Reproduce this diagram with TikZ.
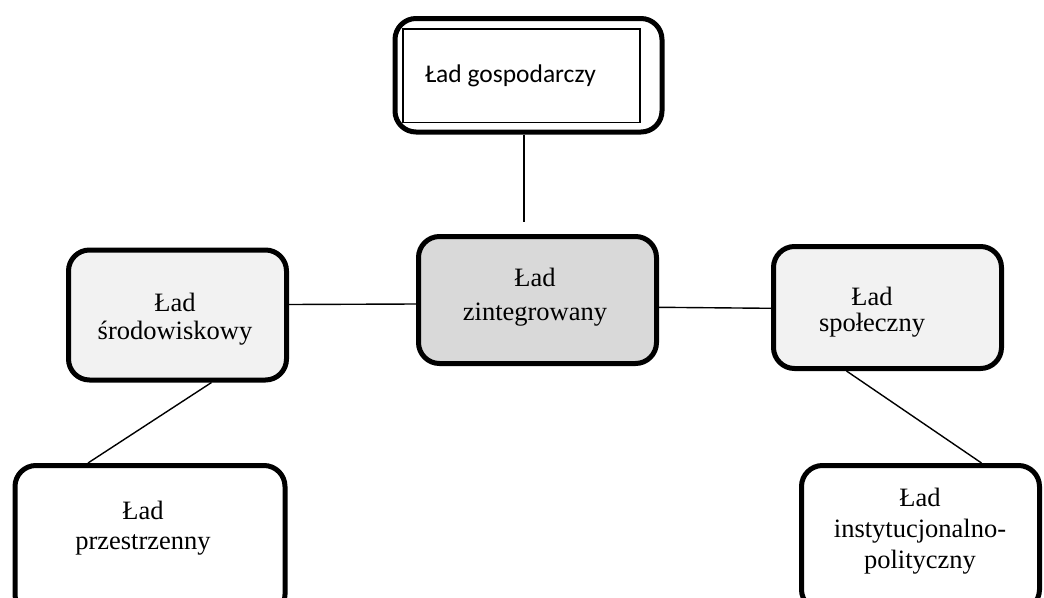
\documentclass[tikz,border=0pt]{standalone}
\usepackage{fontspec}
\setmainfont{Liberation Serif}
\newfontfamily\calibri{Carlito}
\definecolor{zifill}{HTML}{D9D9D9}
\definecolor{lightfill}{HTML}{F2F2F2}
\tikzset{
  box/.style={draw=black, line width=5pt, rounded corners=21pt, rectangle, inner sep=0pt},
  lbl/.style={align=center, inner sep=0pt, font=\fontsize{26.5}{#1}\selectfont},
  conn/.style={draw=black, line width=1.4pt},
}
\begin{document}
\begin{tikzpicture}[x=1pt,y=-1pt]
\useasboundingbox (0,0) rectangle (1044,597);
\clip (0,0) rectangle (1044,597);
% boxes
\node[box, fill=white, minimum width=267pt, minimum height=113.5pt] (gosp) at (528.5,75.25) {};
\node[draw=black, line width=1.3pt, rectangle, inner sep=0pt, minimum width=237pt, minimum height=93.5pt] (gin) at (521.5,75.75) {};
\node[anchor=base west, inner sep=0pt, font=\calibri\fontsize{25.5}{30}\selectfont] (gt) at (425,82) {Ład gospodarczy};

\node[box, fill=zifill, minimum width=238pt, minimum height=127pt] (zi) at (537.5,300) {};
\node[lbl=34] (zit) at (535,296.9) {Ład\\zintegrowany};

\node[box, fill=lightfill, minimum width=218pt, minimum height=130pt] (sr) at (177.5,315) {};
\node[lbl=28] (srt) at (175,319) {Ład\\środowiskowy};

\node[box, fill=lightfill, minimum width=228pt, minimum height=122pt] (sp) at (887.5,307.5) {};
\node[lbl=26] (spt) at (872,312) {Ład\\społeczny};

\node[box, fill=white, minimum width=270pt, minimum height=150pt] (pz) at (150,540.5) {};
\node[lbl=30] (pzt) at (143,528) {Ład\\przestrzenny};

\node[box, fill=white, minimum width=238pt, minimum height=145pt] (ip) at (920.5,538) {};
\node[lbl=31] (ipt) at (920,531) {Ład\\instytucjonalno-\\polityczny};

% connectors
\coordinate (gz) at (524,222);
\draw[conn] (gosp.south -| gz) -- (gz);
\draw[conn] ([yshift=10.5pt]sr.east) -- ([yshift=-4pt]zi.west);
\draw[conn] ([yshift=-7.3pt]zi.east) -- ([yshift=-0.8pt]sp.west);
\draw[conn] ([xshift=34pt]sr.south) -- ([xshift=-62pt]pz.north);
\draw[conn] ([xshift=-41pt]sp.south) -- ([xshift=61pt]ip.north);
\end{tikzpicture}
\end{document}
